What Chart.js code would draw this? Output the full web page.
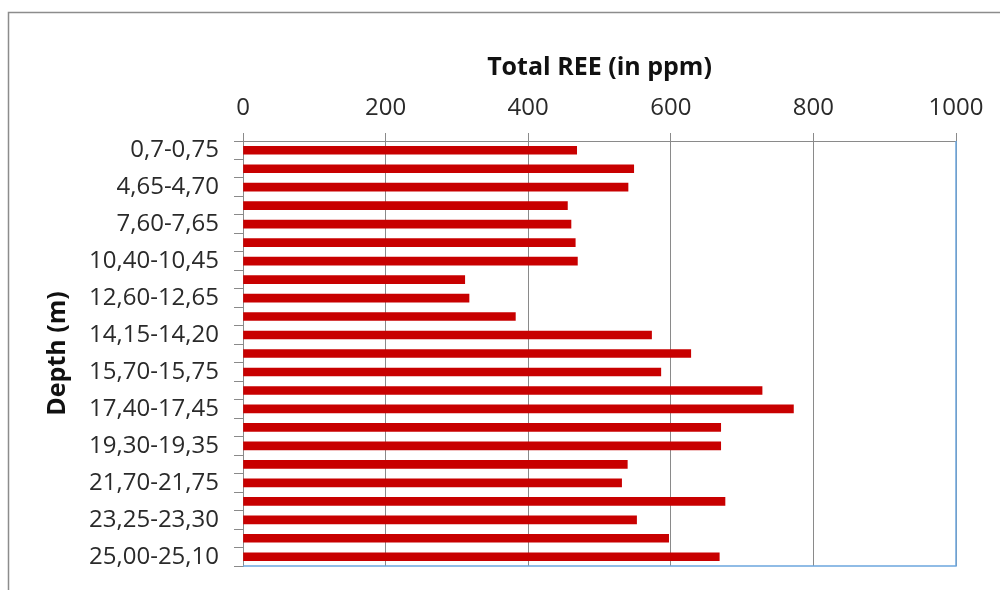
<!DOCTYPE html>
<html>
<head>
<meta charset="utf-8">
<script src="https://cdn.jsdelivr.net/npm/chart.js@4.4.1/dist/chart.umd.min.js"></script>
<style>
  html, body { margin: 0; padding: 0; background: #ffffff; }
  #wrap { position: relative; width: 1000px; height: 590px; }
  canvas { display: block; }
</style>
</head>
<body>
<div id="wrap"><canvas id="c" width="1000" height="590"></canvas></div>
<script>
// Depth intervals (every other label is shown in the reference; unlabeled ones left blank)
const depthLabels = [
  '0,7-0,75', '', '4,65-4,70', '', '7,60-7,65', '', '10,40-10,45', '',
  '12,60-12,65', '', '14,15-14,20', '', '15,70-15,75', '', '17,40-17,45', '',
  '19,30-19,35', '', '21,70-21,75', '', '23,25-23,30', '', '25,00-25,10'
];
// Total REE (ppm)
const totalREE = [
  468, 548, 540, 455, 460, 466, 469, 311, 317, 382, 573, 628,
  586, 728, 772, 670, 670, 539, 531, 676, 552, 597, 668
];
const xTicks = [0, 200, 400, 600, 800, 1000];
const xTitle = 'Total REE (in ppm)';
const yTitle = 'Depth (m)';

const GRID = '#8a8a8a';
const BLUE = '#6CA6DE';

const framePlugin = {
  id: 'frame',
  beforeDraw(chart) {
    const ctx = chart.ctx;
    ctx.save();
    ctx.strokeStyle = '#8c8c8c';
    ctx.lineWidth = 1.5;
    ctx.beginPath();
    ctx.moveTo(8.5, 590);
    ctx.lineTo(8.5, 12.5);
    ctx.lineTo(1000, 12.5);
    ctx.stroke();
    ctx.restore();
  },
  afterDraw(chart) {
    const a = chart.chartArea;
    const ctx = chart.ctx;
    ctx.save();
    ctx.strokeStyle = BLUE;
    ctx.lineWidth = 1.5;
    ctx.beginPath();
    ctx.moveTo(a.left, a.bottom);
    ctx.lineTo(a.right, a.bottom);
    ctx.lineTo(a.right, a.top);
    ctx.stroke();
    ctx.restore();
  }
};

new Chart(document.getElementById('c'), {
  type: 'bar',
  data: {
    labels: depthLabels,
    datasets: [{
      label: xTitle,
      data: totalREE,
      backgroundColor: '#C80000',
      borderWidth: 0,
      barThickness: 8
    }]
  },
  options: {
    indexAxis: 'y',
    responsive: false,
    animation: false,
    layout: { padding: { left: 0, top: 0, right: 44, bottom: 24 } },
    plugins: {
      legend: { display: false },
      tooltip: { enabled: false }
    },
    scales: {
      x: {
        position: 'top',
        min: 0,
        max: 1000,
        afterBuildTicks(scale) { scale.ticks = xTicks.map(v => ({ value: v })); },
        afterFit(scale) { scale.height = 141; },
        ticks: {
          font: { family: 'Open Sans', size: 24 },
          color: '#2a2a2a',
          padding: 10,
          maxRotation: 0,
          callback: (v) => String(v)
        },
        grid: {
          color: GRID,
          lineWidth: 1,
          tickLength: 8,
          drawOnChartArea: true
        },
        border: { display: true, color: GRID, width: 1 },
        title: {
          display: true,
          text: xTitle,
          font: { family: 'Open Sans', size: 25, weight: 'bold', lineHeight: 1.2 },
          color: '#111111',
          padding: { top: 53, bottom: 0 }
        }
      },
      y: {
        position: 'left',
        afterFit(scale) {
          scale.width = 243;
          scale.paddingTop = 0;
          scale.paddingBottom = 0;
        },
        ticks: {
          autoSkip: false,
          font: { family: 'Open Sans', size: 24 },
          color: '#2a2a2a',
          padding: 15
        },
        grid: {
          offset: true,
          drawOnChartArea: false,
          drawTicks: true,
          tickLength: 9,
          color: GRID
        },
        border: { display: true, color: GRID, width: 1 },
        title: {
          display: true,
          text: yTitle,
          font: { family: 'Open Sans', size: 25, weight: 'bold', lineHeight: 1.2 },
          color: '#111111',
          padding: { top: 43, bottom: 0 }
        }
      }
    }
  },
  plugins: [framePlugin]
});
</script>
</body>
</html>
